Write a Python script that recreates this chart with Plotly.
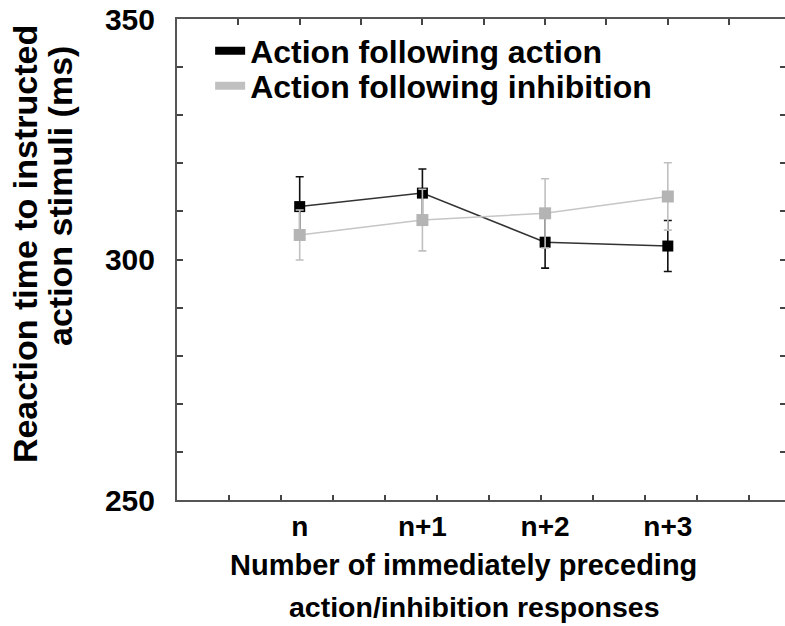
import numpy as np
import plotly.graph_objects as go

# Conditions along the x axis (plotted at positions 1..4)
conditions = ["n", "n+1", "n+2", "n+3"]
positions = [1, 2, 3, 4]

# Mean reaction times (ms) and error bars
rt_after_action = [311.0, 313.8, 303.6, 302.8]
err_after_action = [6.2, 5.0, 5.4, 5.3]
rt_after_inhibition = [305.1, 308.2, 309.6, 313.1]
err_after_inhibition = [5.2, 6.4, 7.2, 7.0]

series_names = ["Action following action", "Action following inhibition"]

FONT = "Liberation Sans, Arial, sans-serif"
BLACK = "#000000"
GREY = "#b4b4b4"

x_max = 4.955
fig = go.Figure()

# Action following action (black)
fig.add_trace(go.Scatter(
    x=positions, y=rt_after_action, mode="lines+markers", showlegend=False,
    line=dict(color="#333333", width=1.5),
    marker=dict(symbol="square", size=11, color=BLACK),
    error_y=dict(type="data", array=err_after_action, color="#111111",
                 thickness=1.6, width=4),
))

# Action following inhibition (grey)
fig.add_trace(go.Scatter(
    x=positions, y=rt_after_inhibition, mode="lines+markers", showlegend=False,
    line=dict(color="#c6c6c6", width=1.5),
    marker=dict(symbol="square", size=12, color=GREY),
    error_y=dict(type="data", array=err_after_inhibition, color="#c0c0c0",
                 thickness=1.6, width=4),
))

# Legend entries drawn as thick bars, one legend box per row
for name, col, lg in zip(series_names, [BLACK, "#c0c0c0"], ["legend", "legend2"]):
    fig.add_trace(go.Scatter(
        x=[None], y=[None], mode="lines", name=name, legend=lg,
        line=dict(color=col, width=8),
    ))

# Invisible trace that carries the top / right frame axes
fig.add_trace(go.Scatter(x=[None], y=[None], xaxis="x2", yaxis="y2",
                         showlegend=False, hoverinfo="skip"))

legend_style = dict(
    xanchor="left", yanchor="top", bgcolor="rgba(0,0,0,0)", borderwidth=0,
    font=dict(size=32, family=FONT, weight="bold"),
)

title_font = dict(size=29, family=FONT, weight="bold")
title_font2 = dict(size=28.5, family=FONT, weight="bold")
ytitle_font = dict(size=34, family=FONT, weight="bold")

fig.update_layout(
    width=785, height=626,
    margin=dict(l=177, r=0, t=19, b=126),
    paper_bgcolor="white", plot_bgcolor="white",
    font=dict(family=FONT, color="black"),
    xaxis=dict(
        range=[0, x_max], tickmode="array", tickvals=positions, ticktext=conditions,
        ticks="", showgrid=False, zeroline=False,
        showline=True, linecolor="#555555", linewidth=2,
        tickfont=dict(size=28, family=FONT, weight="bold"),
        minor=dict(tickmode="array", tickvals=list(np.arange(1, 12) * 0.4237),
                   ticks="inside", ticklen=5, tickwidth=2, tickcolor="#444444",
                   showgrid=False),
    ),
    xaxis2=dict(
        overlaying="x", side="top", anchor="y", range=[0, x_max],
        tickmode="array", tickvals=list(np.arange(1, 10) * 0.5),
        ticks="inside", ticklen=6, tickwidth=2, tickcolor="#444444",
        showticklabels=False, showgrid=False, zeroline=False,
        showline=True, linecolor="#555555", linewidth=2,
    ),
    yaxis=dict(
        range=[250, 350], tickmode="array", tickvals=list(range(250, 351, 10)),
        ticktext=[str(v) if v % 50 == 0 else "" for v in range(250, 351, 10)],
        ticks="inside", ticklen=6, tickwidth=2, tickcolor="#444444",
        ticklabelstandoff=14,
        showgrid=False, zeroline=False,
        showline=True, linecolor="#555555", linewidth=2,
        tickfont=dict(size=30, family=FONT, weight="bold"),
    ),
    yaxis2=dict(
        overlaying="y", side="right", anchor="x", range=[250, 350],
        tickmode="array", tickvals=list(range(250, 351, 10)),
        ticks="inside", ticklen=5, tickwidth=2, tickcolor="#444444",
        showticklabels=False, showgrid=False, zeroline=False, showline=False,
    ),
    legend=dict(x=0.0545, y=0.991, **legend_style),
    legend2=dict(x=0.0545, y=0.918, **legend_style),
    annotations=[
        dict(text="Reaction time to instructed",
             xref="paper", yref="paper", x=0, y=0.532,
             xshift=-152, xanchor="center", yanchor="middle",
             textangle=-90, showarrow=False, font=ytitle_font),
        dict(text="action stimuli (ms)",
             xref="paper", yref="paper", x=0, y=0.632,
             xshift=-117, xanchor="center", yanchor="middle",
             textangle=-90, showarrow=False, font=ytitle_font),
        dict(text="Number of immediately preceding",
             xref="paper", yref="paper", x=0.472, y=-0.1351,
             xanchor="center", yanchor="middle", showarrow=False,
             font=title_font),
        dict(text="action/inhibition responses",
             xref="paper", yref="paper", x=0.490, y=-0.2225,
             xanchor="center", yanchor="middle", showarrow=False,
             font=title_font2),
    ],
)

fig.write_html("out.html")
